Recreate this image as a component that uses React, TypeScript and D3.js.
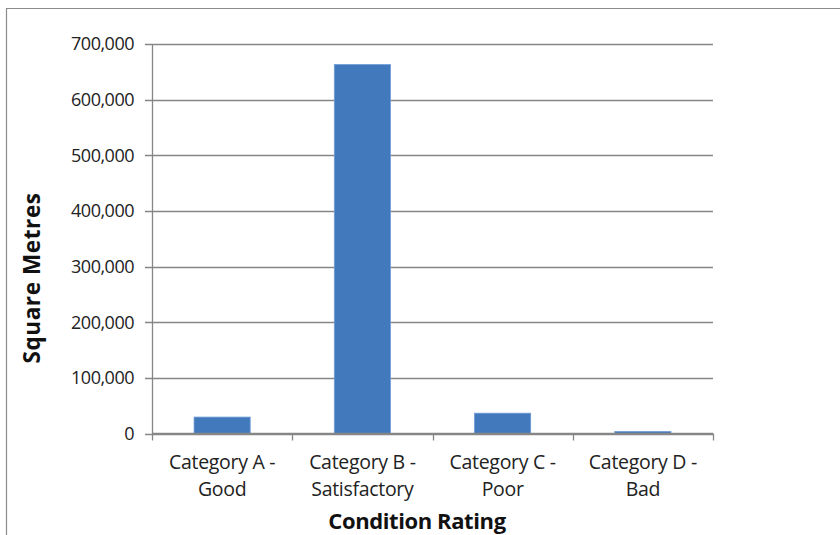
import React from "react";
import * as d3 from "d3";

const categories: string[][] = [
  ["Category A -", "Good"],
  ["Category B -", "Satisfactory"],
  ["Category C -", "Poor"],
  ["Category D -", "Bad"],
];
const areaValues: number[] = [29500, 663000, 36500, 3500];
const yTicks: number[] = [0, 100000, 200000, 300000, 400000, 500000, 600000, 700000];

const W = 840;
const H = 535;
const margin = { left: 152, right: 127, top: 44, bottom: 102 };
const FONT = "'Open Sans', 'DejaVu Sans', sans-serif";

export default function App() {
  const innerW = W - margin.left - margin.right;
  const x0 = margin.left;
  const x1 = margin.left + innerW;
  const yBase = H - margin.bottom + 0.5;

  const keys = categories.map((c) => c.join(" "));
  const x = d3.scaleBand<string>().domain(keys).range([x0, x1]).paddingInner(0.6).paddingOuter(0.3);
  const slot = d3.scaleBand<string>().domain(keys).range([x0, x1]);
  const y = d3.scaleLinear().domain([0, 700000]).range([yBase, margin.top]);
  const fmt = d3.format(",");
  const axisColor = "#868686";

  return (
    <svg width={W} height={H} style={{ position: "absolute", left: 0, top: 0, background: "#fff" }}>
      {/* outer frame */}
      <path d={`M6.5,${H} V8.5 H${W}`} fill="none" stroke="#8c8c8c" strokeWidth={1.2} />

      {/* gridlines and y ticks */}
      {yTicks.map((t) => (
        <g key={t}>
          <line x1={x0 - 7} x2={x1} y1={Math.round(y(t)) + 0.5} y2={Math.round(y(t)) + 0.5} stroke={axisColor} strokeWidth={1.3} />
          <text x={134} y={y(t)} dy="0.36em" textAnchor="end" fontFamily={FONT} fontSize={18} fill="#222" letterSpacing={-0.5}>
            {fmt(t)}
          </text>
        </g>
      ))}

      {/* y axis */}
      <line x1={x0 + 0.5} x2={x0 + 0.5} y1={y(700000)} y2={yBase} stroke={axisColor} strokeWidth={1.3} />

      {/* bars */}
      {areaValues.map((v, i) => (
        <rect
          key={keys[i]}
          x={x(keys[i])!}
          y={y(v)}
          width={x.bandwidth()}
          height={yBase - y(v)}
          fill="#4279bd"
          stroke="#6d9bd6"
          strokeWidth={0.8}
        />
      ))}

      {/* x axis */}
      <line x1={x0} x2={x1} y1={yBase} y2={yBase} stroke={axisColor} strokeWidth={1.3} />
      {[...keys.map((k) => slot(k)!), x1].map((p, i) => (
        <line key={i} x1={Math.round(p) + 0.5} x2={Math.round(p) + 0.5} y1={yBase} y2={yBase + 7} stroke={axisColor} strokeWidth={1.3} />
      ))}

      {/* category labels */}
      {categories.map((c, i) => (
        <text key={keys[i]} textAnchor="middle" fontFamily={FONT} fontSize={19.5} fill="#222" letterSpacing={-0.3}>
          {c.map((line, j) => (
            <tspan key={j} x={slot(keys[i])! + slot.bandwidth() / 2} y={469 + j * 26.5}>
              {line}
            </tspan>
          ))}
        </text>
      ))}

      {/* axis titles */}
      <text x={417} y={529} textAnchor="middle" fontFamily={FONT} fontWeight="bold" fontSize={22} fill="#111" letterSpacing={-0.4}>
        Condition Rating
      </text>
      <text
        transform="translate(40,278) rotate(-90)"
        textAnchor="middle"
        fontFamily={FONT}
        fontWeight="bold"
        fontSize={22.5}
        fill="#111"
        letterSpacing={0.6}
      >
        Square Metres
      </text>
    </svg>
  );
}
